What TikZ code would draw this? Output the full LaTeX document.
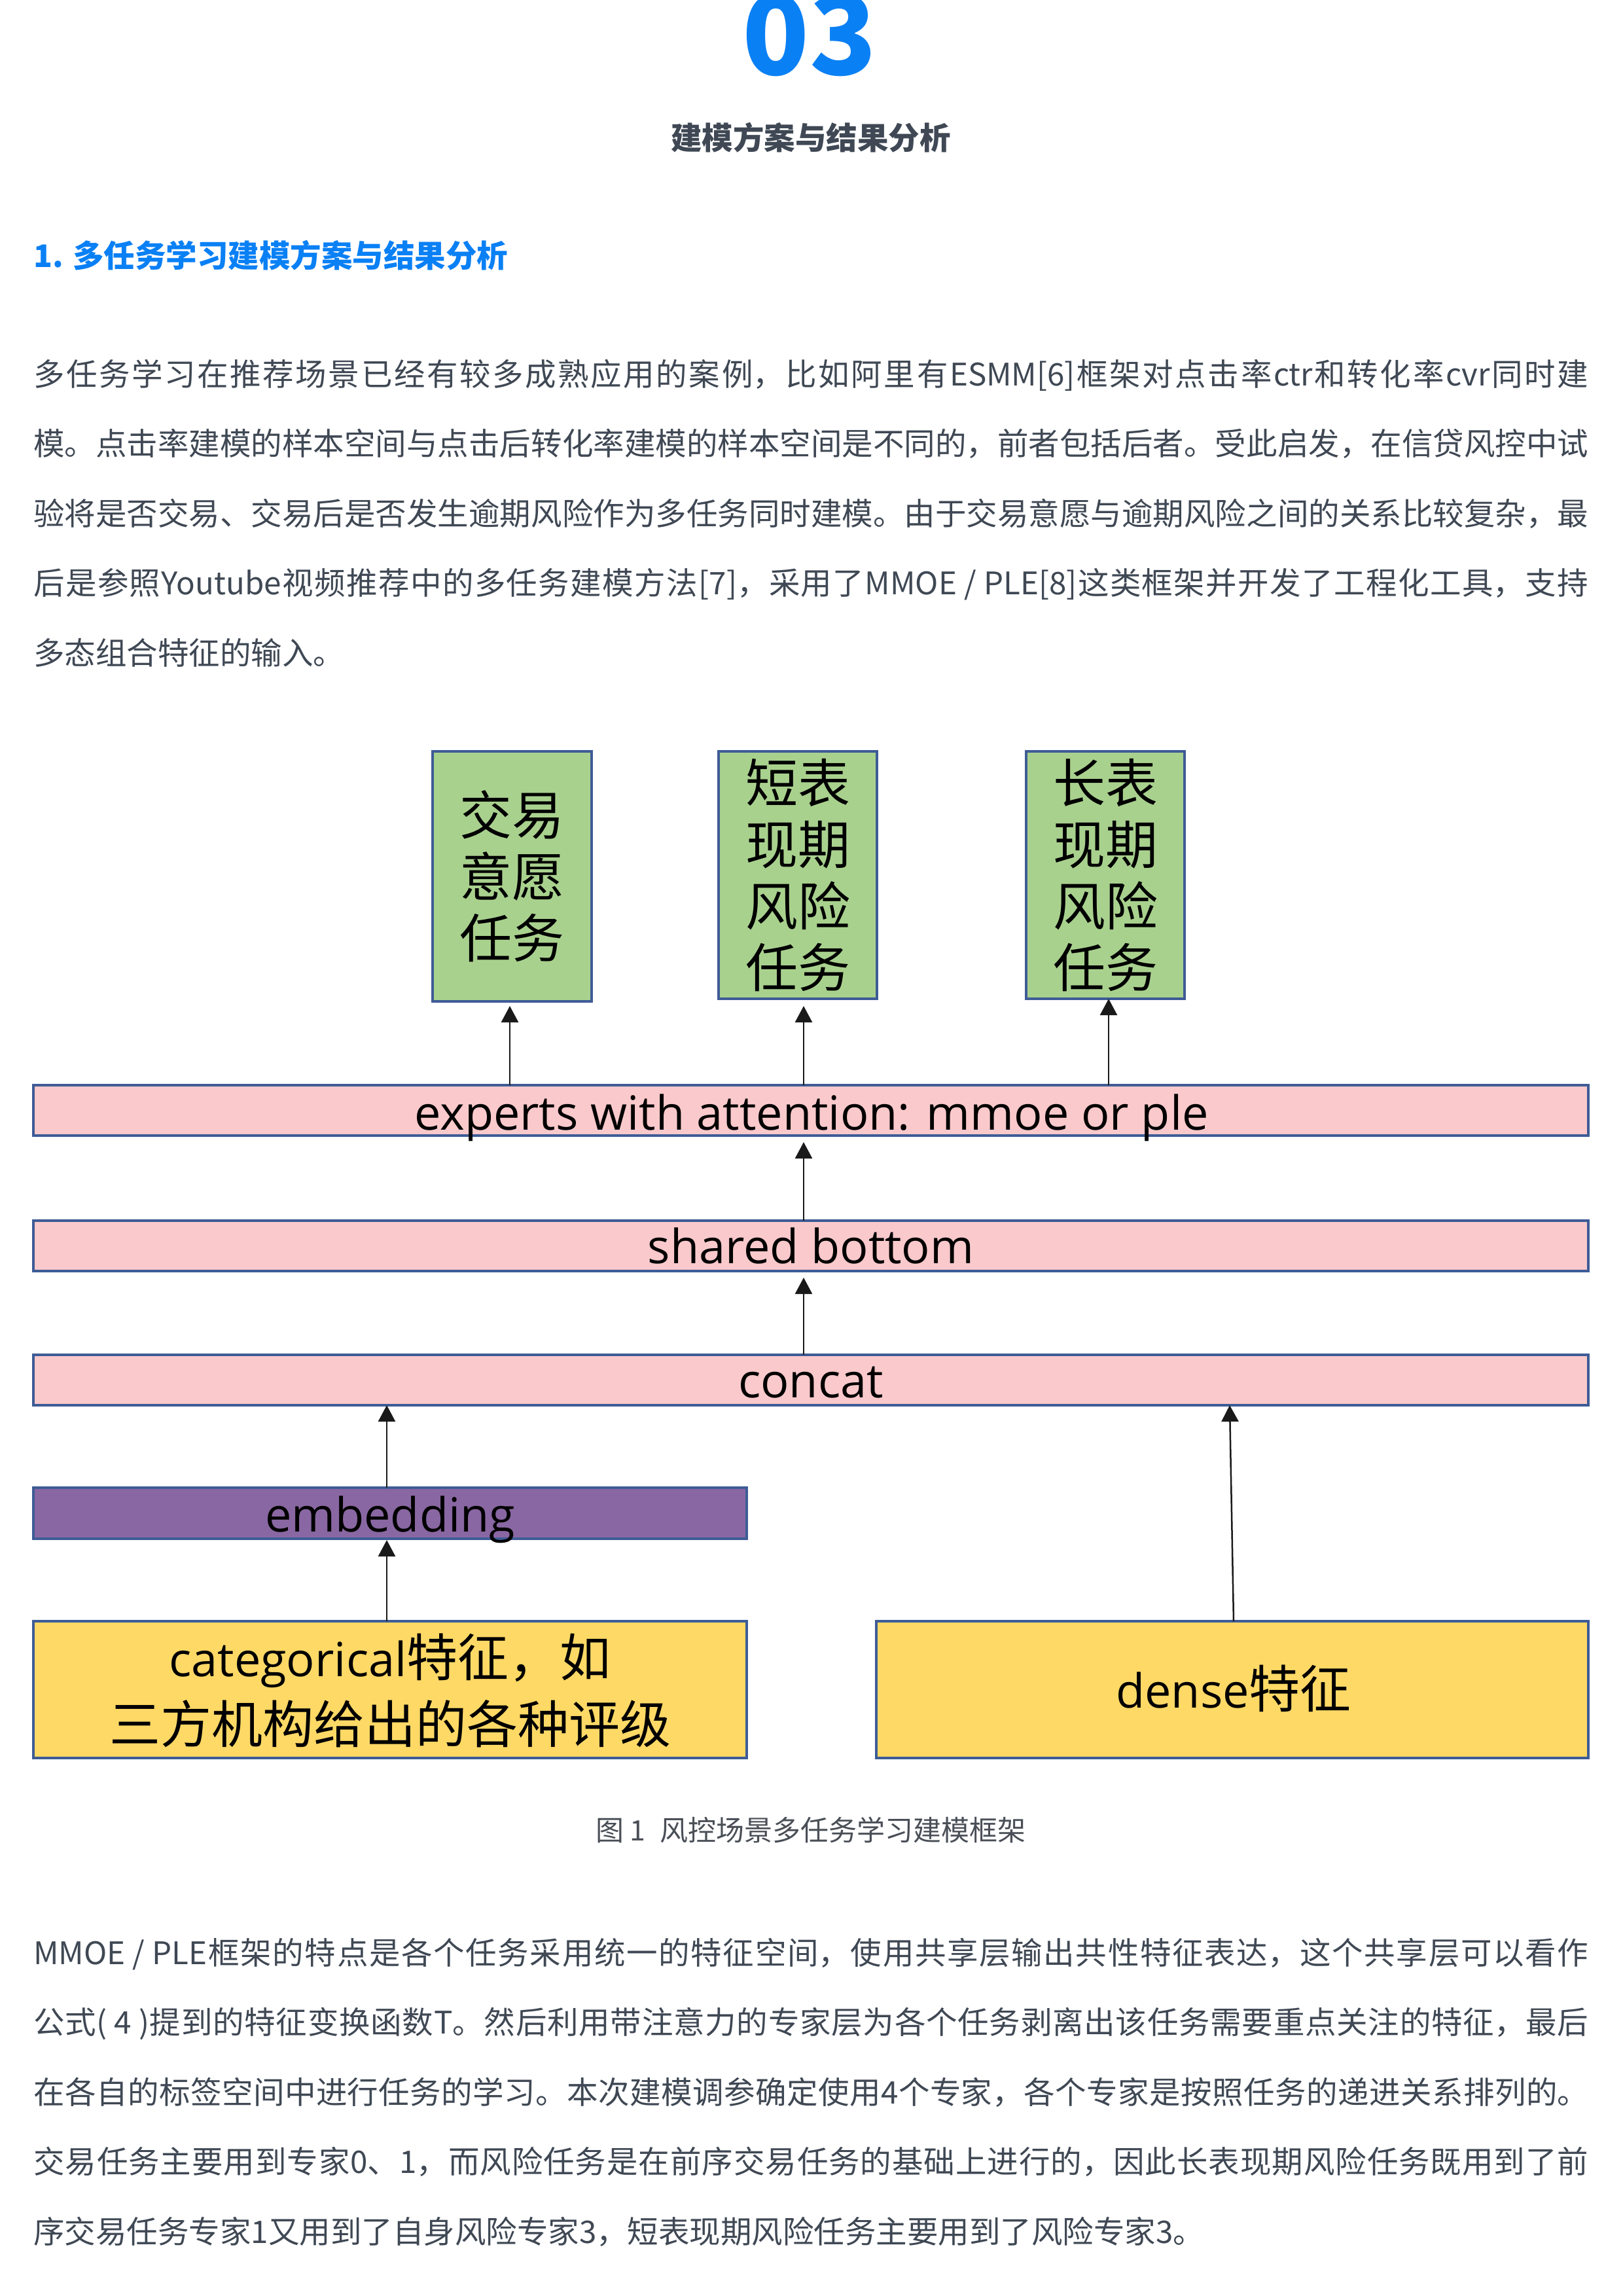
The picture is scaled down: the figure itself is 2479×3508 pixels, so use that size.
\documentclass[tikz,border=0pt]{standalone}
\usepackage{fontspec}
\setmainfont{Noto Sans CJK SC}
\newfontfamily\osans{Open Sans}
\usetikzlibrary{arrows.meta,calc}
\XeTeXlinebreaklocale "zh"
\XeTeXlinebreakskip=0pt plus 12pt minus 1pt
\definecolor{txt}{HTML}{3F4854}
\definecolor{capc}{HTML}{4A4F57}
\definecolor{blu}{HTML}{0A80F5}
\definecolor{gfill}{HTML}{A9D18E}
\definecolor{pfill}{HTML}{FAC9CB}
\definecolor{vfill}{HTML}{8967A2}
\definecolor{yfill}{HTML}{FFD966}
\definecolor{bline}{HTML}{3E5C96}
\definecolor{arrc}{HTML}{1A1A1A}
\newcommand\jl[1]{\parbox[b]{2376pt}{\parfillskip=0pt\relax #1}}
\newcommand\lat[1]{{\osans\fontsize{72}{100}\selectfont #1}}
\tikzset{
  bx/.style={draw=bline, line width=3.5pt, inner sep=0pt, outer sep=0pt, anchor=north west},
  arr/.style={draw=arrc, line width=2.5pt, -{Triangle[length=25pt,width=26pt]}},
  gt/.style={align=center, inner sep=0pt, text=black, font=\fontsize{80}{94}\selectfont},
  dtxt/.style={inner sep=0pt, anchor=base, text=black, font=\fontsize{78}{100}\selectfont},
  body/.style={inner sep=0pt, anchor=base west, text=txt, font=\fontsize{47.5}{106.5}\selectfont},
}
\begin{document}
\begin{tikzpicture}[x=1pt,y=-1pt]
\useasboundingbox[fill=white] (0,0) rectangle (2479,3508);

% header
\node[inner sep=0pt, anchor=base, text=blu, font=\fontsize{168}{168}\selectfont\bfseries] (num) at (1237,115) {03};
\node[inner sep=0pt, anchor=base, text=txt, font=\fontsize{47.5}{60}\selectfont\bfseries] (title) at (1239,229) {建模方案与结果分析};
\node[inner sep=0pt, anchor=base west, text=blu, font=\fontsize{47.5}{60}\selectfont\bfseries] (sec) at (51,408) {1. 多任务学习建模方案与结果分析};

% paragraph 1
\node[body] (p1a) at (51,589) {\jl{多任务学习在推荐场景已经有较多成熟应用的案例，比如阿里有ESMM[6]框架对点击率ctr和转化率cvr同时建}};
\node[body] (p1b) at (51,695.5) {\jl{模。点击率建模的样本空间与点击后转化率建模的样本空间是不同的，前者包括后者。受此启发，在信贷风控中试}};
\node[body] (p1c) at (51,802) {\jl{验将是否交易、交易后是否发生逾期风险作为多任务同时建模。由于交易意愿与逾期风险之间的关系比较复杂，最}};
\node[body] (p1d) at (51,908.5) {\jl{后是参照Youtube视频推荐中的多任务建模方法[7]，采用了MMOE / PLE[8]这类框架并开发了工程化工具，支持}};
\node[body] (p1e) at (51,1015) {多态组合特征的输入。};

% diagram boxes
\node[bx, fill=gfill, minimum width=243pt, minimum height=382pt] (t1) at (661,1148) {};
\node[bx, fill=gfill, minimum width=242pt, minimum height=378pt] (t2) at (1098,1148) {};
\node[bx, fill=gfill, minimum width=242pt, minimum height=378pt] (t3) at (1568,1148) {};
\node[bx, fill=pfill, minimum width=2376pt, minimum height=77pt] (exp) at (51,1658) {};
\node[bx, fill=pfill, minimum width=2376pt, minimum height=77pt] (sb) at (51,1865) {};
\node[bx, fill=pfill, minimum width=2376pt, minimum height=77pt] (cc) at (51,2070) {};
\node[bx, fill=vfill, minimum width=1090pt, minimum height=78pt] (emb) at (51,2273) {};
\node[bx, fill=yfill, minimum width=1090pt, minimum height=209pt] (cat) at (51,2477) {};
\node[bx, fill=yfill, minimum width=1088pt, minimum height=209pt] (dn) at (1339,2477) {};

% diagram texts
\node[gt] (t1x) at (t1.center) {交易\\意愿\\任务};
\node[gt] (t2x) at (t2.center) {短表\\现期\\风险\\任务};
\node[gt] (t3x) at (t3.center) {长表\\现期\\风险\\任务};
\node[dtxt] (expx) at (1240,1726) {\lat{experts with attention: mmoe or ple}};
\node[dtxt] (sbx) at (1239,1930) {\lat{shared bottom}};
\node[dtxt] (ccx) at (1239,2135) {\lat{concat}};
\node[dtxt] (embx) at (596,2340) {\lat{embedding}};
\node[dtxt] (catx1) at (596,2561) {\lat{categorical}特征，如};
\node[dtxt] (catx2) at (596,2663) {三方机构给出的各种评级};
\node[dtxt] (dnx) at (1885,2609) {\lat{dense}特征};

% connector columns
\coordinate (c1) at (779,0);
\coordinate (c2) at (1228,0);
\coordinate (c3) at (1694,0);
\coordinate (c4) at (591,0);
\coordinate (c5) at (1885,0);
\coordinate (c6) at (1879,0);

\draw[arr] (exp.north -| c1) -- ($(t1.south -| c1)+(0,7)$);
\draw[arr] (exp.north -| c2) -- ($(t2.south -| c2)+(0,11)$);
\draw[arr] (exp.north -| c3) -- (t3.south -| c3);
\draw[arr] (sb.north -| c2) -- ($(exp.south -| c2)+(0,10)$);
\draw[arr] (cc.north -| c2) -- ($(sb.south -| c2)+(0,10)$);
\draw[arr] (emb.north -| c4) -- (cc.south -| c4);
\draw[arr] (cat.north -| c4) -- ($(emb.south -| c4)+(0,2)$);
\draw[arr] (dn.north -| c5) -- (cc.south -| c6);

% caption
\node[inner sep=0pt, anchor=base, text=capc, font=\fontsize{43}{50}\selectfont] (cap) at (1239,2812) {图 1\hspace{22pt}风控场景多任务学习建模框架};

% paragraph 2
\node[body] (p2a) at (51,3001) {\jl{MMOE / PLE框架的特点是各个任务采用统一的特征空间，使用共享层输出共性特征表达，这个共享层可以看作}};
\node[body] (p2b) at (51,3107.5) {\jl{公式( 4 )提到的特征变换函数T。然后利用带注意力的专家层为各个任务剥离出该任务需要重点关注的特征，最后}};
\node[body] (p2c) at (51,3214) {\jl{在各自的标签空间中进行任务的学习。本次建模调参确定使用4个专家，各个专家是按照任务的递进关系排列的。}};
\node[body] (p2d) at (51,3320.5) {\jl{交易任务主要用到专家0、1，而风险任务是在前序交易任务的基础上进行的，因此长表现期风险任务既用到了前}};
\node[body] (p2e) at (51,3427) {序交易任务专家1又用到了自身风险专家3，短表现期风险任务主要用到了风险专家3。};
\end{tikzpicture}
\end{document}
